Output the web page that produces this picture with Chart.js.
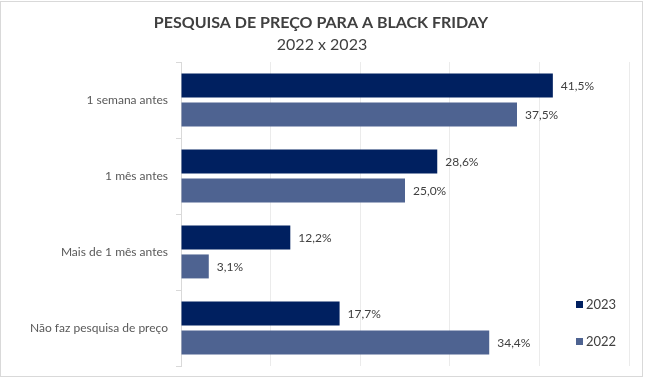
<!DOCTYPE html>
<html>
<head>
<meta charset="utf-8">
<script src="https://cdn.jsdelivr.net/npm/chart.js@4.4.0/dist/chart.umd.min.js"></script>
<style>
  html, body { margin: 0; padding: 0; background: #fff; }
  #wrap { position: absolute; left: 0; top: 0; width: 648px; height: 382px; }
  #frame { position: absolute; left: 0; top: 1px; width: 643px; height: 376px;
           border: 1px solid #d9d9d9; box-sizing: border-box; pointer-events: none; }
</style>
</head>
<body>
<div id="wrap">
  <canvas id="myChart" width="648" height="382"></canvas>
  <div id="frame"></div>
</div>
<script>
// dados
var categorias = ['1 semana antes', '1 mês antes', 'Mais de 1 mês antes', 'Não faz pesquisa de preço'];
var anos = ['2023', '2022'];
var valores2023 = [41.5, 28.6, 12.2, 17.7];
var valores2022 = [37.5, 25.0, 3.1, 34.4];
var coresAnos = ['#002060', '#4e6391'];
var titulo = 'PESQUISA DE PREÇO PARA A BLACK FRIDAY';
var subtitulo = '2022 x 2023';

var fonte = 'Lato, "Open Sans", sans-serif';

// titulo centrado como no Excel (um pouco a direita do centro do plot)
var cabecalho = {
  id: 'cabecalho',
  afterDraw: function(chart) {
    var ctx = chart.ctx;
    ctx.save();
    ctx.fillStyle = '#404040';
    ctx.textAlign = 'center';
    ctx.textBaseline = 'alphabetic';
    ctx.font = 'bold 16px ' + fonte;
    ctx.fillText(titulo, 321, 28);
    ctx.font = '16px ' + fonte;
    ctx.fillText(subtitulo, 322, 50);
    ctx.restore();
  }
};

// rotulos de valor no fim de cada barra
var rotulos = {
  id: 'rotulos',
  afterDatasetsDraw: function(chart) {
    var ctx = chart.ctx;
    ctx.save();
    ctx.font = '12px ' + fonte;
    ctx.fillStyle = '#404040';
    ctx.textBaseline = 'middle';
    ctx.textAlign = 'left';
    chart.data.datasets.forEach(function(ds, i) {
      chart.getDatasetMeta(i).data.forEach(function(bar, j) {
        var txt = ds.data[j].toFixed(1).replace('.', ',') + '%';
        ctx.fillText(txt, bar.x + 8, bar.y + 1);
      });
    });
    ctx.restore();
  }
};

// legenda desenhada por cima da area do grafico, canto inferior direito
var legenda = {
  id: 'legenda',
  afterDraw: function(chart) {
    var ctx = chart.ctx;
    var area = chart.chartArea;
    ctx.save();
    ctx.font = '13px ' + fonte;
    ctx.textBaseline = 'middle';
    chart.data.datasets.forEach(function(ds, i) {
      var y = area.bottom - 62 + i * 37;
      var x = area.right - 53;
      ctx.fillStyle = ds.backgroundColor;
      ctx.fillRect(x, y - 3, 7, 7);
      ctx.fillStyle = '#404040';
      ctx.fillText(ds.label, x + 10, y + 1);
    });
    ctx.restore();
  }
};

var ctx = document.getElementById('myChart').getContext('2d');
var myChart = new Chart(ctx, {
  type: 'bar',
  data: {
    labels: categorias,
    datasets: [
      { label: anos[0], data: valores2023, backgroundColor: coresAnos[0] },
      { label: anos[1], data: valores2022, backgroundColor: coresAnos[1] }
    ]
  },
  options: {
    indexAxis: 'y',
    responsive: false,
    animation: false,
    devicePixelRatio: 1,
    categoryPercentage: 0.76,
    barPercentage: 0.83,
    layout: { padding: { left: 0, right: 19, top: 62, bottom: 16 } },
    plugins: {
      legend: { display: false },
      tooltip: { enabled: false },
      title: { display: false }
    },
    scales: {
      x: {
        min: 0,
        max: 50,
        ticks: { display: false, stepSize: 10 },
        grid: { color: '#ebebeb', drawTicks: false },
        border: { display: false },
        afterFit: function(scale) { scale.height = 0; }
      },
      y: {
        ticks: { color: '#595959', font: { family: fonte, size: 12 }, padding: 8 },
        grid: { offset: true, drawOnChartArea: false, tickLength: 5, color: '#d9d9d9' },
        border: { display: true, color: '#d9d9d9' },
        afterFit: function(scale) { scale.width = 181; }
      }
    }
  },
  plugins: [cabecalho, rotulos, legenda]
});
</script>
</body>
</html>
